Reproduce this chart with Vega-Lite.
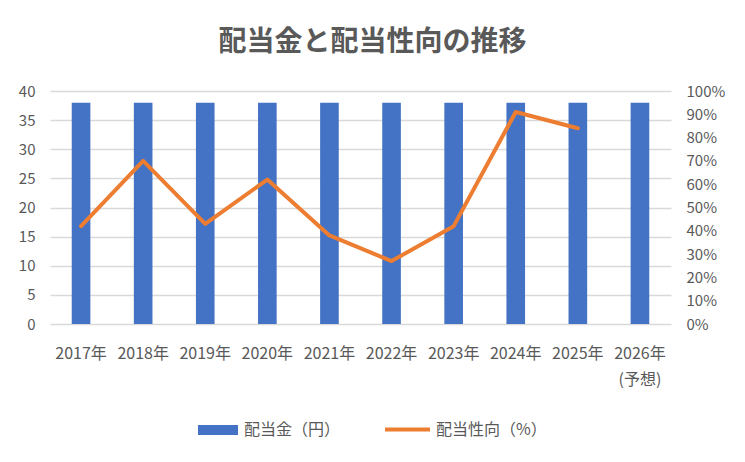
{
  "$schema": "https://vega.github.io/schema/vega-lite/v6.json",
  "width": 621,
  "height": 233,
  "autosize": {"type": "none"},
  "padding": {"left": 50, "top": 91, "right": 74, "bottom": 138},
  "background": "white",
  "title": {
    "text": "配当金と配当性向の推移",
    "fontSize": 28,
    "font": "Noto Sans CJK JP",
    "fontWeight": "bold",
    "color": "#595959",
    "anchor": "middle",
    "dx": 12,
    "offset": 27
  },
  "data": {
    "values": [
      {"year": "2017年", "dividend": 38, "payout": 42},
      {"year": "2018年", "dividend": 38, "payout": 70},
      {"year": "2019年", "dividend": 38, "payout": 43},
      {"year": "2020年", "dividend": 38, "payout": 62},
      {"year": "2021年", "dividend": 38, "payout": 38},
      {"year": "2022年", "dividend": 38, "payout": 27},
      {"year": "2023年", "dividend": 38, "payout": 42},
      {"year": "2024年", "dividend": 38, "payout": 91},
      {"year": "2025年", "dividend": 38, "payout": 84},
      {"year": "2026年", "dividend": 38, "payout": null}
    ]
  },
  "layer": [
    {
      "mark": {"type": "bar", "color": "#4472C4", "width": {"band": 0.3}},
      "encoding": {
        "x": {
          "field": "year",
          "type": "ordinal",
          "sort": null,
          "scale": {"paddingInner": 0, "paddingOuter": 0},
          "axis": {
            "title": null,
            "labelAngle": 0,
            "ticks": false,
            "domain": false,
            "labelPadding": 21,
            "labelFontSize": 16,
            "labelLineHeight": 26,
            "labelExpr": "datum.value == '2026年' ? ['2026年', '(予想)'] : datum.value"
          }
        },
        "y": {
          "field": "dividend",
          "type": "quantitative",
          "scale": {"domain": [0, 40]},
          "axis": {
            "title": null,
            "values": [0, 5, 10, 15, 20, 25, 30, 35, 40],
            "gridColor": "#D9D9D9",
            "gridWidth": 1.3,
            "domain": false,
            "ticks": false,
            "labelPadding": 15
          }
        },
        "color": {
          "datum": "配当金（円）",
          "scale": {"range": ["#4472C4"]},
          "legend": {
            "orient": "none",
            "legendX": 148,
            "legendY": 319,
            "title": null,
            "symbolType": "M-1,-0.25H1V0.25H-1Z",
            "symbolSize": 1600,
            "symbolStrokeWidth": 0,
            "labelOffset": 6,
            "labelFontSize": 16,
            "labelColor": "#595959"
          }
        }
      }
    },
    {
      "mark": {"type": "line", "color": "#ED7D31", "strokeWidth": 4, "strokeCap": "round", "strokeJoin": "round"},
      "encoding": {
        "x": {"field": "year", "type": "ordinal", "sort": null},
        "y": {
          "field": "payout",
          "type": "quantitative",
          "scale": {"domain": [0, 100]},
          "axis": {
            "orient": "right",
            "title": null,
            "values": [0, 10, 20, 30, 40, 50, 60, 70, 80, 90, 100],
            "labelExpr": "datum.value + '%'",
            "grid": false,
            "domain": false,
            "ticks": false,
            "labelPadding": 15
          }
        },
        "stroke": {
          "datum": "配当性向（%）",
          "scale": {"range": ["#ED7D31"]},
          "legend": {
            "orient": "none",
            "legendX": 333,
            "legendY": 314,
            "title": null,
            "symbolType": "stroke",
            "symbolSize": 2025,
            "symbolStrokeWidth": 4,
            "labelOffset": 4,
            "labelFontSize": 16,
            "labelColor": "#595959"
          }
        }
      }
    }
  ],
  "resolve": {"scale": {"y": "independent"}},
  "config": {
    "view": {"stroke": null},
    "font": "Noto Sans CJK JP",
    "axis": {"labelColor": "#595959", "labelFontSize": 15, "labelFont": "Noto Sans CJK JP"},
    "legend": {"labelFont": "Noto Sans CJK JP"}
  }
}
